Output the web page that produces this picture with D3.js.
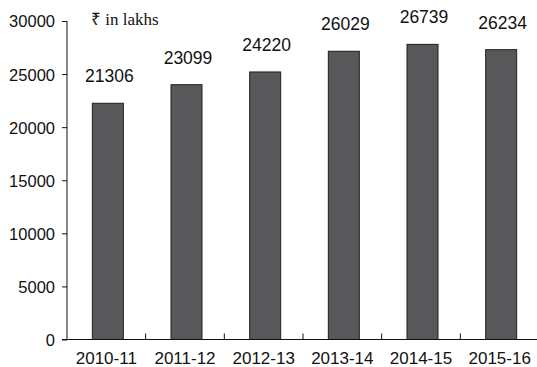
<!DOCTYPE html>
<html>
<head>
<meta charset="utf-8">
<script src="https://cdn.jsdelivr.net/npm/d3@7"></script>
<style>
html,body{margin:0;padding:0;background:#fff;}
svg{display:block;}
</style>
</head>
<body>
<svg id="chart" width="537" height="367"></svg>
<script>
const categories = ["2010-11","2011-12","2012-13","2013-14","2014-15","2015-16"];
const labelValues = [21306, 23099, 24220, 26029, 26739, 26234];
// bar heights as drawn in the reference
const barHeights = [22250, 24000, 25200, 27150, 27800, 27300];
const yTicks = [0, 5000, 10000, 15000, 20000, 25000, 30000];
const unitLabel = "₹ in lakhs";

(function(){
const svg = d3.select("#chart");
const mLeft = 67, mRight = 539, mTop = 21, mBottom = 339.5;

const x = d3.scaleBand().domain(categories).range([mLeft, mRight]).padding(0);
const y = d3.scaleLinear().domain([0, 30000]).range([mBottom, mTop]);

const barW = 31;

// bars
svg.append("g").selectAll("rect").data(categories).join("rect")
  .attr("x", d => x(d) + x.bandwidth()/2 - barW/2 + 1.5)
  .attr("y", (d,i) => y(barHeights[i]))
  .attr("width", barW)
  .attr("height", (d,i) => y(0) - y(barHeights[i]))
  .attr("fill", "#58585a")
  .attr("stroke", "#1e1e1e")
  .attr("stroke-width", 1);

// value labels
svg.append("g").selectAll("text").data(categories).join("text")
  .attr("x", d => x(d) + x.bandwidth()/2 + 3)
  .attr("y", (d,i) => y(barHeights[i]) - 21)
  .attr("text-anchor", "middle")
  .attr("font-family", "Liberation Sans, Arial, sans-serif")
  .attr("font-size", "17.5px")
  .attr("fill", "#111")
  .text((d,i) => labelValues[i]);

// y axis
const yAxis = d3.axisLeft(y).tickValues(yTicks).tickSize(5).tickPadding(7).tickFormat(d3.format("d"));
const gy = svg.append("g").attr("transform", `translate(${mLeft},0)`).call(yAxis);
gy.select(".domain").attr("d", `M0,${mTop}V${mBottom}`).attr("stroke", "#111");
gy.selectAll(".tick line").attr("stroke", "#111");
gy.selectAll(".tick text").attr("font-family", "Liberation Sans, Arial, sans-serif")
  .attr("font-size", "16.5px").attr("fill", "#111").attr("dy", "0.36em");

// x axis
const gx = svg.append("g").attr("transform", `translate(0,${mBottom})`);
gx.append("line").attr("x1", mLeft - 5).attr("x2", mRight).attr("y1", 0).attr("y2", 0)
  .attr("stroke", "#111");
gx.selectAll("line.sep").data(categories.slice(1)).join("line").attr("class","sep")
  .attr("x1", d => x(d)).attr("x2", d => x(d))
  .attr("y1", 0).attr("y2", -6).attr("stroke", "#111");
gx.selectAll("text").data(categories).join("text")
  .attr("x", d => x(d) + x.bandwidth()/2)
  .attr("y", 24)
  .attr("text-anchor", "middle")
  .attr("font-family", "Liberation Sans, Arial, sans-serif")
  .attr("font-size", "17px")
  .attr("fill", "#111")
  .text(d => d);

// unit label
svg.append("text").attr("x", 91).attr("y", 25)
  .attr("font-family", "Liberation Serif, Times New Roman, serif")
  .attr("font-size", "17px").attr("fill", "#111")
  .text(unitLabel);
})();
</script>
</body>
</html>
